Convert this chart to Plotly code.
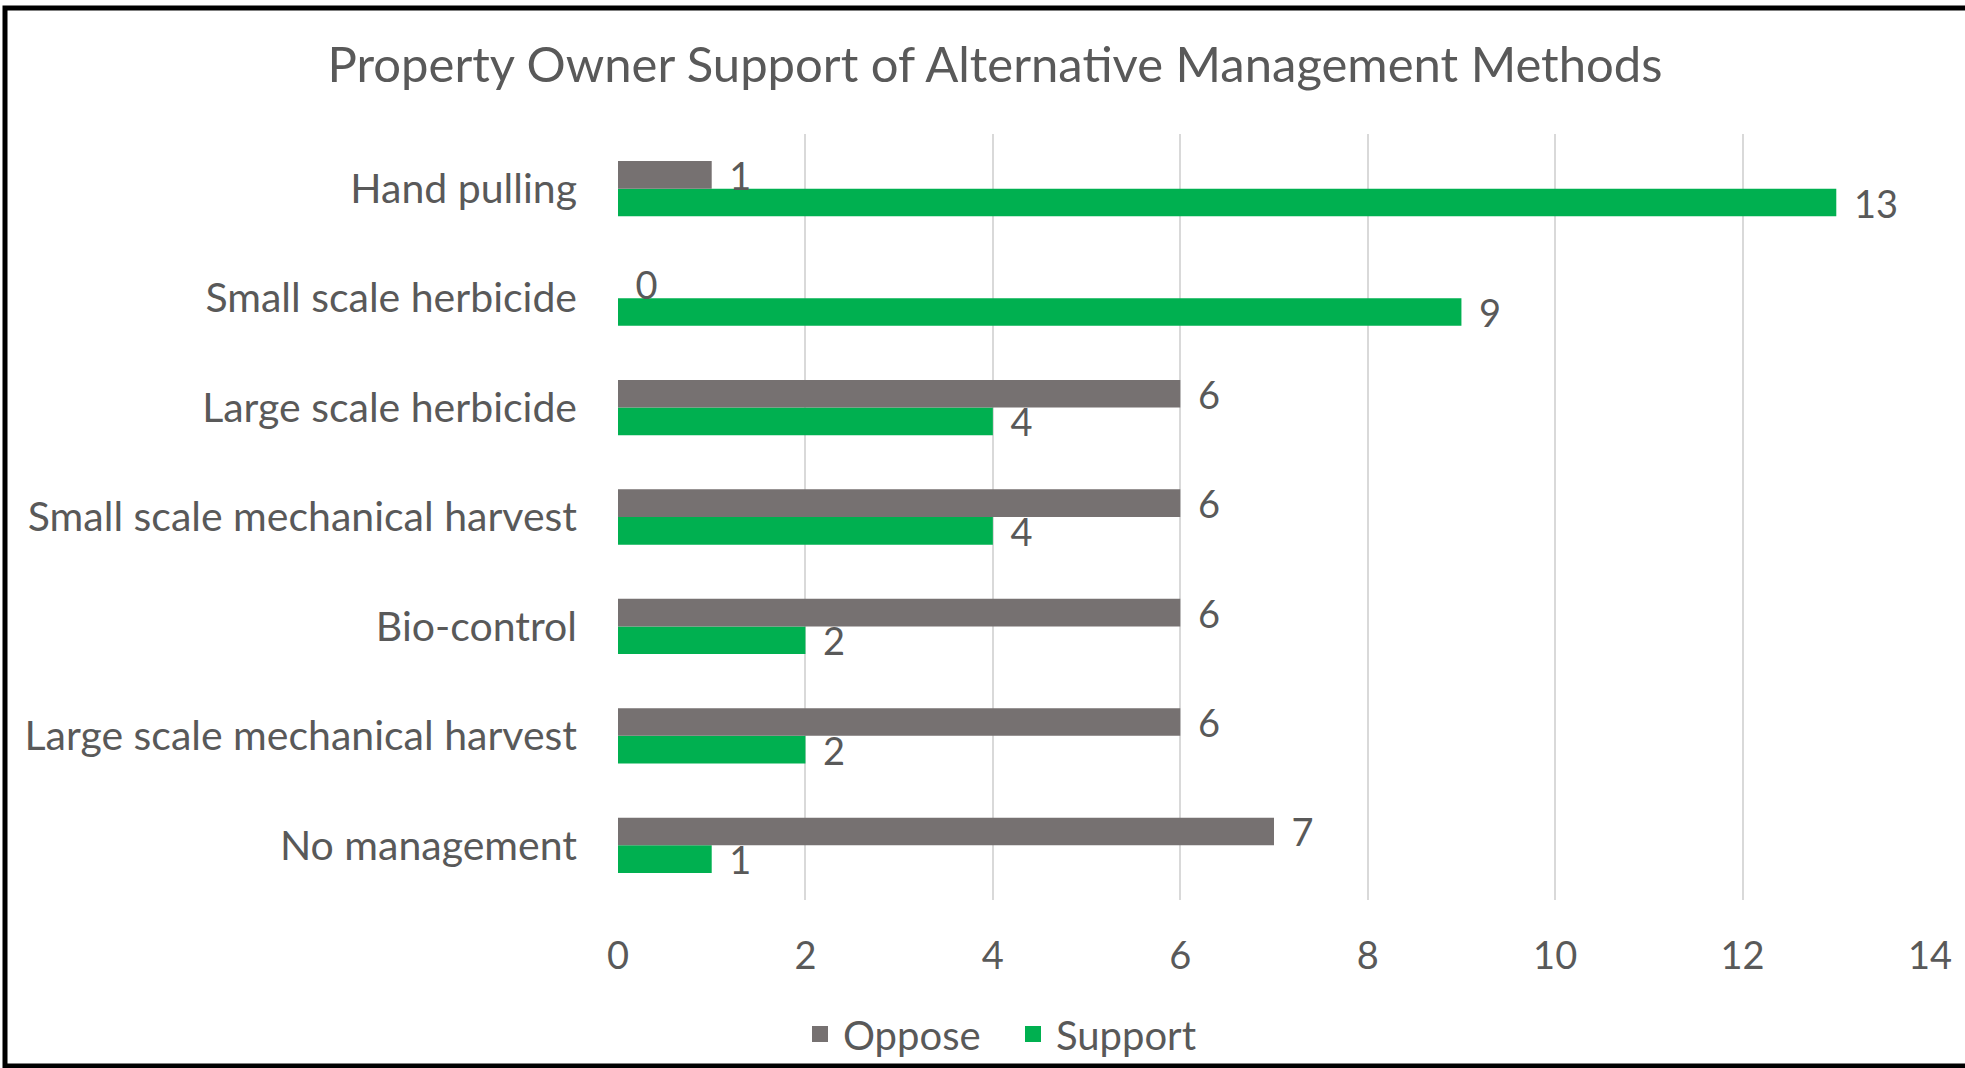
import plotly.graph_objects as go

categories = ["Hand pulling", "Small scale herbicide", "Large scale herbicide",
              "Small scale mechanical harvest", "Bio-control",
              "Large scale mechanical harvest", "No management"]
oppose = [1, 0, 6, 6, 6, 6, 7]
support = [13, 9, 4, 4, 2, 2, 1]
x_ticks = [0, 2, 4, 6, 8, 10, 12, 14]

TEXT = "#595959"
FONT = "Lato"
GRAY = "#767171"
GREEN = "#00B050"
W, H = 1965, 1068
L, R, T, B = 618, 35, 134, 168
pw, ph = W - L - R, H - T - B

def px_x(p):
    return (p - L) / pw

def px_y(p):
    return (H - B - p) / ph

LABEL = "\u00a0<span style='font-size:19px'>\u00a0</span>%{x}"

fig = go.Figure()
fig.add_trace(go.Bar(
    y=categories, x=support, name="Support", orientation="h",
    marker=dict(color=GREEN, line=dict(width=0)),
    texttemplate=LABEL, textposition="outside",
    textfont=dict(color=TEXT, size=38, family=FONT),
    constraintext="none", cliponaxis=False, showlegend=False,
))
fig.add_trace(go.Bar(
    y=categories, x=oppose, name="Oppose", orientation="h",
    marker=dict(color=GRAY, line=dict(width=0)),
    texttemplate=LABEL, textposition="outside",
    textfont=dict(color=TEXT, size=38, family=FONT),
    constraintext="none", cliponaxis=False, showlegend=False,
))
# legend entries with square swatches
for name, col in [("Oppose", GRAY), ("Support", GREEN)]:
    fig.add_trace(go.Scatter(
        x=[None], y=[None], mode="markers", name=name,
        marker=dict(symbol="square", size=22, color=col),
        showlegend=True,
    ))

fig.update_layout(
    width=W, height=H,
    margin=dict(l=L, r=R, t=T, b=B, pad=0, autoexpand=False),
    paper_bgcolor="white", plot_bgcolor="white",
    barmode="group", bargap=0.495, bargroupgap=0,
    font=dict(family=FONT, color=TEXT, size=38),
    title=dict(text="Property Owner Support of Alternative Management Methods",
               x=995 / W, y=1 - 65 / H, xref="container", yref="container",
               xanchor="center", yanchor="middle",
               font=dict(size=49, color=TEXT, family=FONT)),
    legend=dict(orientation="h", x=1010 / W, y=1 - 1034 / H,
                xref="container", yref="container",
                xanchor="center", yanchor="middle",
                bgcolor="rgba(0,0,0,0)", entrywidth=162, itemwidth=36,
                font=dict(size=40, color=TEXT, family=FONT),
                traceorder="normal"),
    showlegend=True,
    xaxis=dict(range=[0, 14], tickvals=x_ticks, showgrid=True,
               gridcolor="#D9D9D9", gridwidth=2, zeroline=False,
               showline=False, ticks="", ticklabelstandoff=30,
               tickfont=dict(size=38, color=TEXT, family=FONT)),
    yaxis=dict(categoryorder="array", categoryarray=categories[::-1],
               showgrid=False, zeroline=False, showline=False, ticks="",
               ticklabelstandoff=40,
               tickfont=dict(size=41, color=TEXT, family=FONT)),
    shapes=[dict(type="rect", xref="paper", yref="paper",
                 x0=px_x(5), x1=px_x(W + 20), y0=px_y(1066), y1=px_y(8),
                 line=dict(color="black", width=5), fillcolor="rgba(0,0,0,0)",
                 layer="above")],
)

fig.write_html("out.html", config={"displayModeBar": False},
               post_script="document.body.style.margin='0';")
